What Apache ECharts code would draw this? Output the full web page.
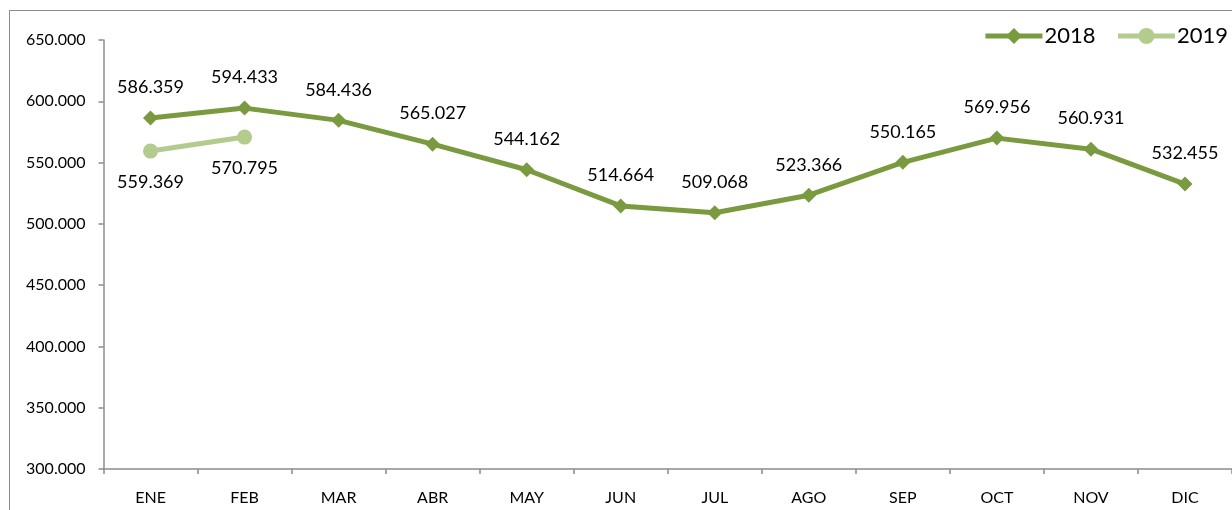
<!DOCTYPE html>
<html>
<head>
<meta charset="utf-8">
<script src="https://cdn.jsdelivr.net/npm/echarts@6/dist/echarts.min.js"></script>
<style>
html,body{margin:0;padding:0;background:#fff;overflow:hidden;}
#frame{position:absolute;left:9px;top:10px;width:1300px;height:600px;border:1.5px solid #8c8c8c;box-sizing:border-box;}
#chart{position:absolute;left:0;top:0;width:1232px;height:510px;}
</style>
</head>
<body>
<div id="frame"></div>
<div id="chart"></div>
<script>
const categories = ['ENE','FEB','MAR','ABR','MAY','JUN','JUL','AGO','SEP','OCT','NOV','DIC'];
const values2018 = [586359, 594433, 584436, 565027, 544162, 514664, 509068, 523366, 550165, 569956, 560931, 532455];
const values2019 = [559369, 570795];
const yTicks = [300000, 350000, 400000, 450000, 500000, 550000, 600000, 650000];

const FONT = 'Lato, "Noto Sans", sans-serif';
const C18 = '#7A9A3F';
const C19 = '#B4CB8E';
const fmt = v => {
  const s = Math.round(v).toString();
  return s.replace(/\B(?=(\d{3})+(?!\d))/g, '.');
};

const chart = echarts.init(document.getElementById('chart'), null, {renderer:'canvas'});
chart.setOption({
  animation: false,
  backgroundColor: 'transparent',
  grid: {left: 103.5, top: 40, width: 1131, bottom: 41, containLabel: false},
  legend: {
    right: -1, top: 20,
    itemWidth: 57, itemHeight: 20, itemGap: 20,
    lineStyle: {width: 5},
    textStyle: {fontFamily: FONT, fontSize: 22, color: '#000', padding:[0,0,0,-3]},
    data: ['2018','2019']
  },
  xAxis: {
    type: 'category',
    data: categories,
    boundaryGap: true,
    axisLine: {lineStyle: {color: '#8c8c8c', width: 1.5}},
    axisTick: {show: true, inside: false, length: 5, alignWithLabel: false, lineStyle: {color: '#8c8c8c', width: 1.5}},
    axisLabel: {fontFamily: FONT, fontSize: 16, color: '#000', margin: 21}
  },
  yAxis: {
    type: 'value',
    min: yTicks[0], max: yTicks[yTicks.length-1], interval: 50000,
    axisLine: {show: true, lineStyle: {color: '#8c8c8c', width: 1.5}},
    axisTick: {show: true, length: 5, lineStyle: {color: '#8c8c8c', width: 1.5}},
    splitLine: {show: false},
    axisLabel: {fontFamily: FONT, fontSize: 16, color: '#000', margin: 18, formatter: v => fmt(v)}
  },
  series: [
    {
      name: '2018', type: 'line', data: values2018,
      symbol: 'diamond', symbolSize: 15,
      itemStyle: {color: C18},
      lineStyle: {color: C18, width: 5},
      label: {show: true, position: 'top', distance: 14, fontFamily: FONT, fontSize: 18, color: '#000', formatter: p => fmt(p.value)},
      z: 3
    },
    {
      name: '2019', type: 'line', data: values2019,
      symbol: 'circle', symbolSize: 15,
      itemStyle: {color: C19},
      lineStyle: {color: C19, width: 5},
      label: {show: true, position: 'bottom', distance: 15, fontFamily: FONT, fontSize: 18, color: '#000', formatter: p => fmt(p.value)},
      z: 2
    }
  ]
});
</script>
</body>
</html>
